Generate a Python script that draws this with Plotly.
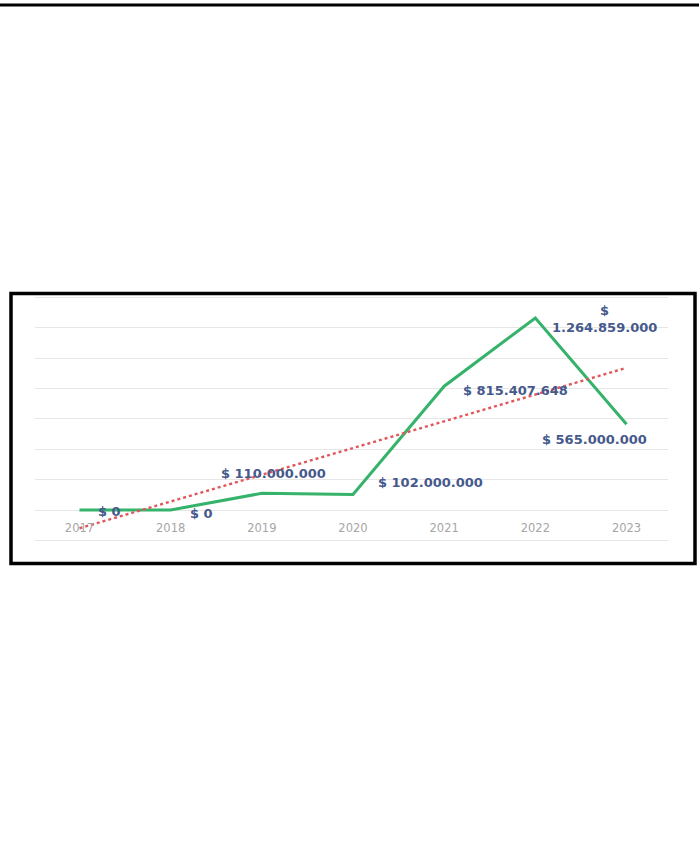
import numpy as np
import plotly.graph_objects as go

years = [2017, 2018, 2019, 2020, 2021, 2022, 2023]
values = [0, 0, 110000000, 102000000, 815407648, 1264859000, 565000000]
label_texts = ["$ 0", "$ 0", "$ 110.000.000", "$ 102.000.000",
               "$ 815.407.648", "$<br>1.264.859.000", "$ 565.000.000"]

W, H = 699, 844

def px(x):
    return x / W

def py(y):
    return 1 - y / H

# linear trendline (least squares on the series, like Excel's linear trend)
xi = np.arange(len(values))
slope, intercept = np.polyfit(xi, values, 1)
trend = [intercept + slope * i for i in xi]

fig = go.Figure()
fig.add_trace(go.Scatter(
    x=years, y=values, mode="lines",
    line=dict(color="#35b36a", width=3), showlegend=False, hoverinfo="skip"))
fig.add_trace(go.Scatter(
    x=[years[0], years[-1]], y=[trend[0], trend[-1]], mode="lines",
    line=dict(color="#e0575b", width=2.4, dash="dot"), showlegend=False, hoverinfo="skip"))

# label placement (anchor, shifts in px)
placements = [
    dict(xanchor="left", yanchor="middle", xshift=17, yshift=-1),
    dict(xanchor="left", yanchor="middle", xshift=17, yshift=-3),
    dict(xanchor="center", yanchor="middle", xshift=12, yshift=20),
    dict(xanchor="left", yanchor="middle", xshift=23, yshift=12),
    dict(xanchor="left", yanchor="middle", xshift=17, yshift=-4),
    dict(xanchor="left", yanchor="middle", xshift=15, yshift=-1),
    dict(xanchor="center", yanchor="middle", xshift=-32, yshift=-15),
]
for yr, v, t, p in zip(years, values, label_texts, placements):
    fig.add_annotation(x=yr, y=v, xref="x", yref="y", text="<b>" + t.replace("<br>", "</b><br><b>") + "</b>",
                       showarrow=False,
                       font=dict(family="DejaVu Sans", size=13, color="#46598c"),
                       align="center", **p)

fig.update_layout(
    width=W, height=H,
    margin=dict(l=0, r=0, t=0, b=0),
    paper_bgcolor="white", plot_bgcolor="white",
    xaxis=dict(domain=[px(35), px(668)], range=[2016.512, 2023.455],
               tickmode="array", tickvals=years, ticktext=[str(y) for y in years],
               showgrid=False, zeroline=False, showline=False,
               anchor="free", position=py(510),
               ticks="outside", ticklen=7, tickcolor="rgba(0,0,0,0)",
               tickfont=dict(family="DejaVu Sans", size=11.5, color="#a6a6a6")),
    yaxis=dict(domain=[py(541.9), py(294.4)], range=[-210e6, 1420e6],
               dtick=200e6, tick0=0, showgrid=True, gridcolor="#e6e6e6", gridwidth=1,
               zeroline=False, showticklabels=False, showline=False),
    shapes=[
        dict(type="line", xref="paper", yref="paper", x0=0, x1=1, y0=py(5), y1=py(5),
             line=dict(color="black", width=3)),
        dict(type="rect", xref="paper", yref="paper", x0=px(11), x1=px(695),
             y0=py(563.5), y1=py(293.5), line=dict(color="black", width=3.5)),
    ],
)

fig.write_html("out.html", config={"displayModeBar": False},
               post_script="document.body.style.margin='0px';")
